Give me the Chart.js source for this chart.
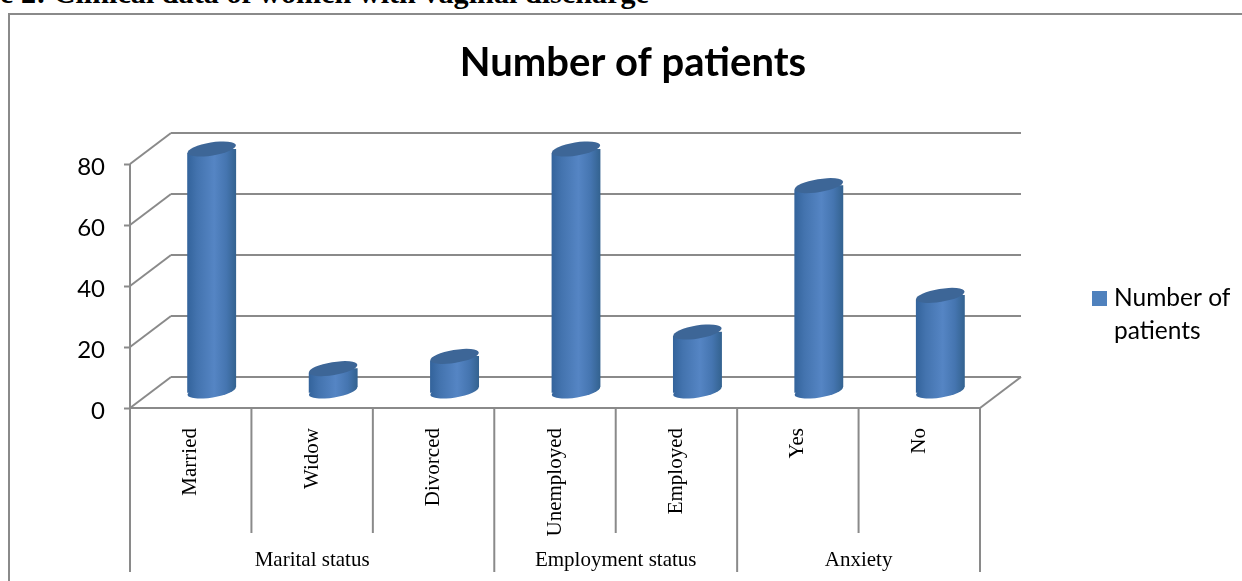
<!DOCTYPE html>
<html lang="en">
<head>
  <meta charset="UTF-8" />
  <title>Number of patients</title>
  <script src="https://cdn.jsdelivr.net/npm/chart.js"></script>
  <style>
    html, body { margin: 0; padding: 0; background: #fff; overflow: hidden; }
    .wrap { position: relative; width: 1242px; height: 581px; overflow: hidden; }
    .caption {
      position: absolute; left: 0; top: -22px; white-space: nowrap;
      font: bold 30.2px/30px "Liberation Serif", serif; color: #000;
    }
    .frame {
      position: absolute; left: 8px; top: 13px; width: 1260px; height: 600px;
      border: 2px solid #8a8a8a; box-sizing: border-box;
    }
    canvas { position: absolute; left: 0; top: 0; }
  </style>
</head>
<body>
  <div class="wrap">
    <div class="caption">e 2: Clinical data of women with vaginal discharge</div>
    <div class="frame"></div>
    <canvas id="chart" width="1242" height="581"></canvas>
  </div>

  <script>
    const categories = ['Married', 'Widow', 'Divorced', 'Unemployed', 'Employed', 'Yes', 'No'];
    const patients = [80, 8, 12, 80, 20, 68, 32];
    const groupNames = ['Marital status', 'Employment status', 'Anxiety'];
    const groupSizes = [3, 2, 2];
    const yTicks = [0, 20, 40, 60, 80];
    const seriesName = 'Number of patients';
    const legendLines = ['Number of', 'patients'];

    const GREY = '#8a8a8a';
    const SERIF = '"Liberation Serif", serif';
    const SANS = 'Lato, sans-serif';
    // 3d look: back wall offset and how far the bars sit into the depth
    const WALL_X = 41, WALL_Y = -31;
    const BAR_X = 21, BAR_Y = -15;
    const TILT = 4;
    const BASE_LIFT = 1.5;

    function line(ctx, x1, y1, x2, y2) {
      ctx.beginPath();
      ctx.moveTo(x1, y1);
      ctx.lineTo(x2, y2);
      ctx.stroke();
    }

    function barGradient(ctx, left, right) {
      const g = ctx.createLinearGradient(left, 0, right, 0);
      g.addColorStop(0, '#33639b');
      g.addColorStop(0.2, '#4373ae');
      g.addColorStop(0.55, '#5585c4');
      g.addColorStop(0.8, '#4575b0');
      g.addColorStop(1, '#33628f');
      return g;
    }

    function ellipse(ctx, bar, y, fill) {
      ctx.beginPath();
      ctx.ellipse(bar.x, y, bar.width / 2, 6.5, -Math.atan2(2 * TILT, bar.width), 0, Math.PI * 2);
      ctx.fillStyle = fill;
      ctx.fill();
    }

    const walls3d = {
      id: 'walls3d',
      beforeDatasetsDraw(chart) {
        const { ctx, chartArea: a, scales: { x, y } } = chart;
        ctx.save();
        ctx.strokeStyle = GREY;
        ctx.lineWidth = 2;
        yTicks.forEach(v => {
          const py = y.getPixelForValue(v);
          line(ctx, a.left, py, a.left + WALL_X, py + WALL_Y);
          line(ctx, a.left + WALL_X, py + WALL_Y, a.right + WALL_X, py + WALL_Y);
        });
        const floor = y.getPixelForValue(0);
        line(ctx, a.left, floor, a.right, floor);
        line(ctx, a.right, floor, a.right + WALL_X, floor + WALL_Y);
        line(ctx, a.left, y.getPixelForValue(80), a.left, floor);

        // category separators, the ones between groups run further down
        const step = x.getPixelForValue(1) - x.getPixelForValue(0);
        let count = 0;
        const groupEnds = [0];
        groupSizes.forEach(n => { count += n; groupEnds.push(count); });
        categories.concat(['']).forEach((c, i) => {
          const px = x.getPixelForValue(0) - step / 2 + i * step;
          line(ctx, px, floor, px, groupEnds.includes(i) ? 572 : 533);
        });
        ctx.fillStyle = '#000';
        ctx.font = '21px ' + SERIF;
        ctx.textAlign = 'center';
        ctx.textBaseline = 'middle';
        groupNames.forEach((name, i) => {
          const mid = (groupEnds[i] + groupEnds[i + 1]) / 2;
          ctx.fillText(name, x.getPixelForValue(0) - step / 2 + mid * step, 560);
        });
        ctx.restore();
      },
      beforeDatasetDraw(chart, args) {
        const { ctx } = chart;
        const bars = chart.getDatasetMeta(args.index).data;
        ctx.save();
        ctx.translate(BAR_X, BAR_Y);
        bars.forEach(b => ellipse(ctx, b, b.base - BASE_LIFT, barGradient(ctx, b.x - b.width / 2, b.x + b.width / 2)));
        // cut the bar ends along the tilt of the ellipses
        ctx.beginPath();
        bars.forEach(b => {
          const l = b.x - b.width / 2, r = b.x + b.width / 2;
          ctx.moveTo(l, b.y + TILT);
          ctx.lineTo(r, b.y - TILT);
          ctx.lineTo(r, b.base - BASE_LIFT - TILT);
          ctx.lineTo(l, b.base - BASE_LIFT + TILT);
          ctx.closePath();
        });
        ctx.clip();
      },
      afterDatasetDraw(chart, args) {
        const { ctx } = chart;
        ctx.restore();
        ctx.save();
        ctx.translate(BAR_X, BAR_Y);
        chart.getDatasetMeta(args.index).data.forEach(b => ellipse(ctx, b, b.y, '#3d6697'));
        ctx.restore();
      },
      afterDraw(chart) {
        const { ctx } = chart;
        ctx.save();
        ctx.fillStyle = '#4f81bd';
        ctx.fillRect(1092, 291, 15, 15);
        ctx.fillStyle = '#000';
        ctx.font = '24.5px ' + SANS;
        ctx.textAlign = 'left';
        ctx.textBaseline = 'middle';
        legendLines.forEach((t, i) => ctx.fillText(t, 1114, 298 + i * 33));
        ctx.restore();
      }
    };

    new Chart(document.getElementById('chart'), {
      type: 'bar',
      data: {
        labels: categories,
        datasets: [{
          label: seriesName,
          data: patients,
          barThickness: 49,
          borderWidth: 0,
          backgroundColor(c) {
            const x = c.chart.scales.x;
            const px = x && c.dataIndex !== undefined ? x.getPixelForValue(c.dataIndex) : NaN;
            if (!isFinite(px)) return '#4f81bd';
            return barGradient(c.chart.ctx, px - 24.5, px + 24.5);
          }
        }]
      },
      options: {
        responsive: false,
        animation: false,
        // left padding keeps the title centred where the original has it
        layout: { padding: { left: 24, right: 0, top: 0, bottom: 9 } },
        plugins: {
          legend: { display: false },
          tooltip: { enabled: false },
          title: {
            display: true,
            text: seriesName,
            color: '#000',
            font: { family: SANS, size: 40, weight: 'bold', lineHeight: 1.2 },
            padding: { top: 39, bottom: 77 }
          }
        },
        scales: {
          x: {
            grid: { display: false },
            border: { display: false },
            afterFit(s) { s.height = 164; },
            ticks: {
              autoSkip: false,
              minRotation: 90,
              maxRotation: 90,
              padding: 12,
              color: '#000',
              font: { family: SERIF, size: 21 }
            }
          },
          y: {
            min: 0,
            max: 80,
            afterBuildTicks(s) { s.ticks = yTicks.map(value => ({ value })); },
            afterFit(s) { s.width = 106; },
            grid: { drawOnChartArea: false, drawTicks: true, tickLength: 6, tickColor: GREY, tickWidth: 2 },
            border: { display: false },
            ticks: {
              padding: 19,
              labelOffset: 3,
              color: '#000',
              font: { family: SANS, size: 24 }
            }
          },
          // empty scale, only holds the room for the legend on the right
          side: {
            type: 'linear',
            position: 'right',
            afterFit(s) { s.width = 262; },
            grid: { display: false },
            border: { display: false },
            ticks: { display: false }
          }
        }
      },
      plugins: [walls3d]
    });
  </script>
</body>
</html>
